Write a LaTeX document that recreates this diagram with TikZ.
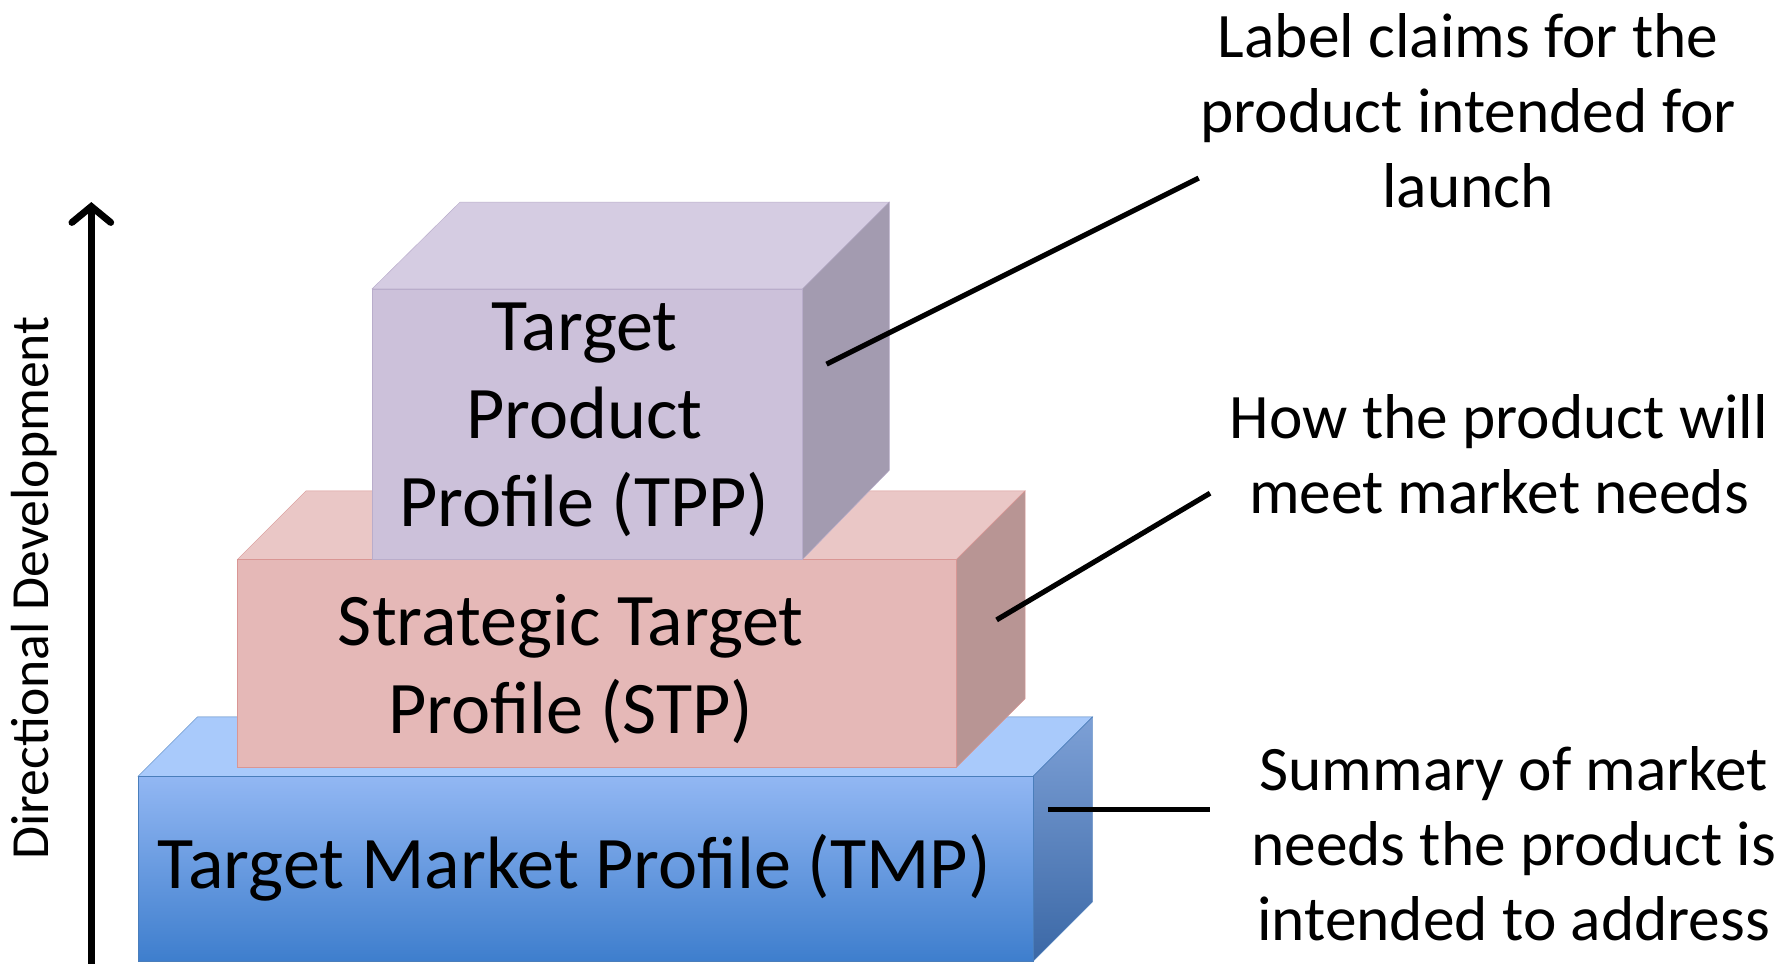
\documentclass[tikz,border=0pt]{standalone}
\usepackage{fontspec}
\setmainfont{Carlito}
\usepackage{tikz}
\usetikzlibrary{arrows.meta}
\definecolor{tmpTop}{HTML}{A9CAFB}
\definecolor{tmpFrontA}{HTML}{92B7F3}
\definecolor{tmpFrontB}{HTML}{3E7ECD}
\definecolor{tmpSideA}{HTML}{7DA0D6}
\definecolor{tmpSideB}{HTML}{3B68A6}
\definecolor{tmpEdge}{HTML}{4A7EBB}
\definecolor{stpTop}{HTML}{EAC7C6}
\definecolor{stpFront}{HTML}{E5B8B7}
\definecolor{stpSide}{HTML}{B89594}
\definecolor{stpEdge}{HTML}{D99694}
\definecolor{tppTop}{HTML}{D5CCE2}
\definecolor{tppFront}{HTML}{CCC1DA}
\definecolor{tppSide}{HTML}{A39BB0}
\definecolor{tppEdge}{HTML}{B9ADCB}
\tikzstyle{leader} = [line width=4.5pt]
\tikzstyle{boxtext} = [align=center, font=\fontsize{65}{77}\selectfont]
\tikzstyle{note} = [align=center, font=\fontsize{55.5}{66}\selectfont]

\begin{document}
\begin{tikzpicture}[x=1pt,y=-1pt]
	\useasboundingbox (0,0) rectangle (1568,844);
	% upward arrow
	\coordinate (arrowfoot) at (80,844);
	\coordinate (arrowtip) at (80,177);
	\draw[line width=6pt,-{Straight Barb[length=14pt,width=34pt,line cap=round]}] (arrowfoot) -- (arrowtip);
	\node[rotate=90, font=\fontsize{47}{55}\selectfont] (direction) at (30,515) {Directional Development};
	% bottom box
	\filldraw[fill=tmpTop, draw=tmpEdge] (121,680) -- (173,628) -- (957,628) -- (905,680) -- cycle;
	\shadedraw[top color=tmpSideA, bottom color=tmpSideB, draw=tmpEdge] (905,680) -- (957,628) -- (957,790) -- (905,842) -- cycle;
	\shadedraw[top color=tmpFrontA, bottom color=tmpFrontB, draw=tmpEdge] (121,680) rectangle (905,842);
	% middle box
	\filldraw[fill=stpTop, draw=stpEdge] (208,490) -- (268,430) -- (898,430) -- (838,490) -- cycle;
	\filldraw[fill=stpSide, draw=stpEdge] (838,490) -- (898,430) -- (898,612) -- (838,672) -- cycle;
	\filldraw[fill=stpFront, draw=stpEdge] (208,490) rectangle (838,672);
	% top box
	\filldraw[fill=tppTop, draw=tppEdge] (326,253) -- (403,177) -- (779,177) -- (703,253) -- cycle;
	\filldraw[fill=tppSide, draw=tppEdge] (703,253) -- (779,177) -- (779,412) -- (703,490) -- cycle;
	\filldraw[fill=tppFront, draw=tppEdge] (326,253) rectangle (703,490);
	% box labels
	\node[boxtext] (tmp) at (503,760) {Target Market Profile (TMP)};
	\node[boxtext] (stp) at (500,586) {Strategic Target\\Profile (STP)};
	\node[boxtext] (tpp) at (512,368) {Target\\Product\\Profile (TPP)};
	% notes on the right
	\node[note] (launch) at (1286,97) {Label claims for the\\product intended for\\launch};
	\node[note] (needs) at (1313,398) {How the product will\\meet market needs};
	\node[note] (summary) at (1326,739) {Summary of market\\needs the product is\\intended to address};
	% leader lines
	\coordinate (tppside) at (724,319);
	\coordinate (launchend) at (1050,156);
	\coordinate (stpside) at (873,543);
	\coordinate (needsend) at (1060,432);
	\coordinate (tmpside) at (918,709);
	\coordinate (summaryend) at (1060,709);
	\draw[leader] (tppside) -- (launchend);
	\draw[leader] (stpside) -- (needsend);
	\draw[leader] (tmpside) -- (summaryend);
\end{tikzpicture}
\end{document}
